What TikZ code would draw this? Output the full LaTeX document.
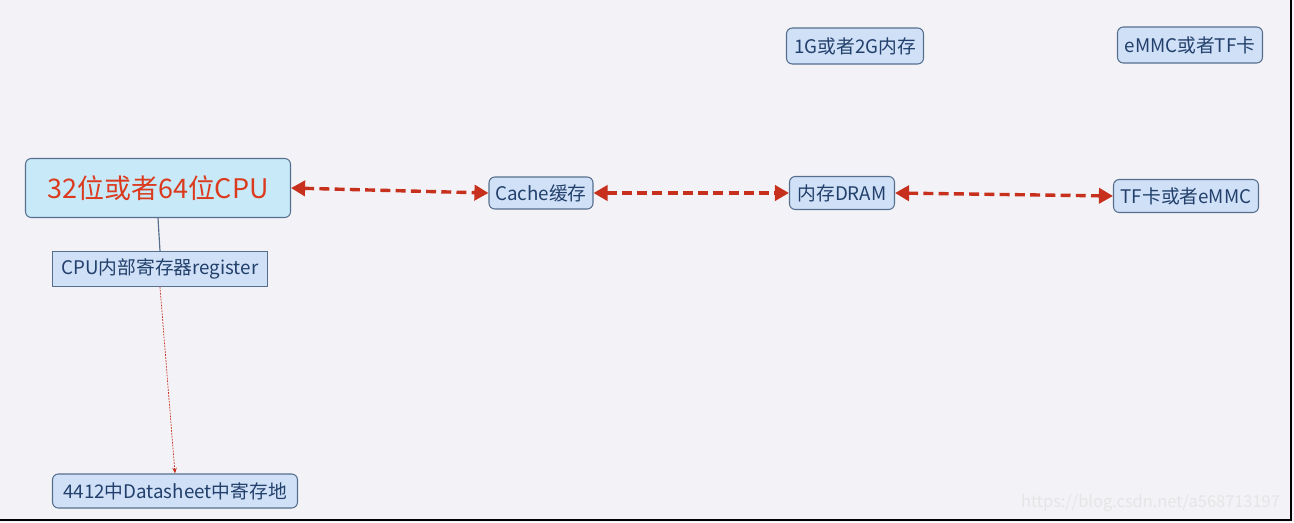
\documentclass[tikz,border=0pt]{standalone}
\usepackage{fontspec}
\setmainfont{Noto Sans CJK SC}
\usetikzlibrary{arrows.meta}
\definecolor{bgGray}{HTML}{F3F3F7}
\definecolor{cpuFill}{HTML}{C8EAF8}
\definecolor{boxFill}{HTML}{CFE0F7}
\definecolor{boxLine}{HTML}{566F8E}
\definecolor{boxText}{HTML}{22406B}
\definecolor{cpuRed}{HTML}{DC3A1E}
\definecolor{linkRed}{HTML}{C8301E}

\begin{document}
\begin{tikzpicture}[x=0.03cm,y=-0.03cm,
  box/.style={draw=boxLine,fill=boxFill,rounded corners=5pt,line width=0.9pt,text=boxText,
    font=\fontsize{16}{18}\selectfont,inner sep=0pt},
  link/.style={draw=linkRed,line width=2.9pt,dash pattern=on 8.5pt off 4.5pt,
    {Triangle[length=12pt,width=13pt]}-{Triangle[length=12pt,width=13pt]}}]
\path[use as bounding box] (0,0) rectangle (1294,522);
\fill[bgGray] (0,0) rectangle (1294,522);
\draw[black,line width=1.6pt] (0,520) -- (1291,520) -- (1291,0);
% left branch
\node[box,fill=cpuFill,text=cpuRed,font=\fontsize{23}{26}\selectfont,
  minimum width=7.95cm,minimum height=1.77cm] (cpu) at (158,188) {32位或者64位CPU};
\node[box,rounded corners=0pt,minimum width=6.45cm,minimum height=1.05cm] (reg) at (160,269) {CPU内部寄存器register};
\node[box,minimum width=7.35cm,minimum height=1.02cm] (sheet) at (175,491) {4412中Datasheet中寄存地};
% memory chain
\node[box,minimum width=3.12cm,minimum height=0.96cm] (cache) at (541,193) {Cache缓存};
\node[box,minimum width=3.15cm,minimum height=0.99cm] (dram) at (842,193) {内存DRAM};
\node[box,minimum width=4.35cm,minimum height=0.99cm] (tf) at (1186,196) {TF卡或者eMMC};
\node[box,minimum width=4.11cm,minimum height=1.08cm] (ram) at (855,46) {1G或者2G内存};
\node[box,minimum width=4.35cm,minimum height=1.08cm] (emmc) at (1190,45) {eMMC或者TF卡};
\draw[link] (cpu.east) -- (cache.west);
\draw[link] (cache.east) -- (dram.west);
\draw[link] (dram.east) -- (tf.west);
\draw[boxLine,line width=1pt] (cpu.south) -- (reg.north);
\draw[linkRed,line width=0.6pt,dash pattern=on 1.5pt off 1pt,-{Stealth[length=5pt,width=4pt]}] (reg.south) -- (sheet.north);
\node[text=black!10,font=\fontsize{14}{16}\selectfont,anchor=east] (mark) at (1284,503) {https://blog.csdn.net/a568713197};
\end{tikzpicture}
\end{document}
